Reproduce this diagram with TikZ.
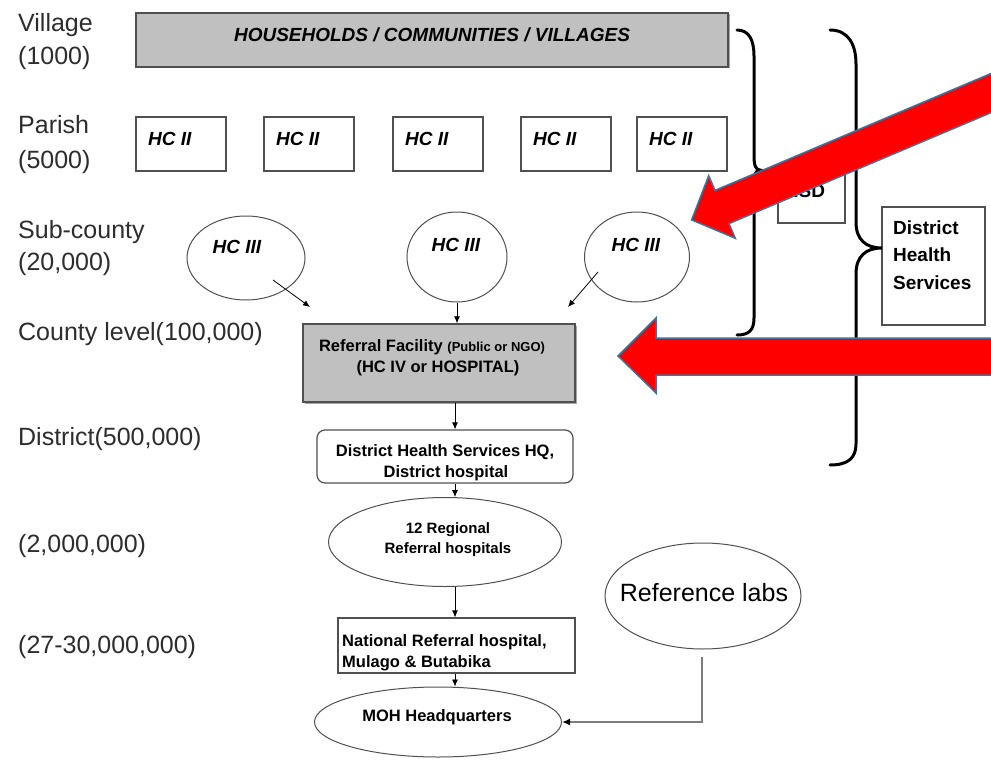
\documentclass[tikz,border=0pt]{standalone}
\usepackage{fontspec}
\setmainfont{Liberation Sans}
\usetikzlibrary{shapes.geometric,arrows.meta,shadows}
\definecolor{boxgray}{RGB}{192,192,192}
\definecolor{edgegray}{RGB}{80,80,80}
\definecolor{labelgray}{RGB}{45,45,45}
\definecolor{arrowblue}{RGB}{65,113,156}
\definecolor{linkgray}{RGB}{125,125,125}
\newcommand\hcfont{\fontsize{19}{22}\selectfont\bfseries\itshape}
\newcommand\midfont{\fontsize{16.5}{19}\selectfont\bfseries}
\newcommand\smfont{\fontsize{13}{15}\selectfont\bfseries}
\begin{document}
\begin{tikzpicture}[x=1pt,y=-1pt,
  lvl/.style={anchor=base west, font=\fontsize{25}{28}\selectfont, text=labelgray, inner sep=0},
  txt/.style={inner sep=0},
  graybox/.style={draw=edgegray, line width=1.4pt, fill=boxgray, inner sep=0,
    drop shadow={shadow xshift=1.5pt, shadow yshift=-1.5pt, fill=gray!70, opacity=1}},
  whitebox/.style={draw=edgegray, line width=1.2pt, fill=white, inner sep=0,
    drop shadow={shadow xshift=1.2pt, shadow yshift=-1.2pt, fill=gray!55, opacity=1}},
  oval/.style={ellipse, draw=edgegray, line width=1pt, fill=white, inner sep=0},
  smallarrow/.style={-{Latex[length=7pt,width=6pt]}, line width=0.8pt, black},
  bracestyle/.style={line width=3pt, black, line cap=round},
  redarrow/.style={fill=red, draw=arrowblue, line width=1.5pt, line join=miter}]
\useasboundingbox (0,0) rectangle (991,760);
\clip (0,0) rectangle (991,760);
\fill[white] (0,0) rectangle (991,760);

% level labels
\node[lvl] (lv1) at (18,32) {Village};
\node[lvl] (lv1b) at (18,65) {(1000)};
\node[lvl] (lv2) at (18,133) {Parish};
\node[lvl] (lv2b) at (18,168) {(5000)};
\node[lvl] (lv3) at (18,238) {Sub-county};
\node[lvl] (lv3b) at (18,270) {(20,000)};
\node[lvl] (lv4) at (18,340) {County level(100,000)};
\node[lvl] (lv5) at (18,445) {District(500,000)};
\node[lvl] (lv6) at (18,552) {(2,000,000)};
\node[lvl] (lv7) at (18,653) {(27-30,000,000)};

% households
\node[graybox, minimum width=592pt, minimum height=54pt] (hh) at (432,40) {};
\node[txt, font=\hcfont] (hht) at (432,35) {HOUSEHOLDS / COMMUNITIES / VILLAGES};

% HC II
\foreach \i/\cx in {1/181,2/309,3/438,4/566,5/682} {
  \node[whitebox, minimum width=90pt, minimum height=54pt] (hcii\i) at (\cx,144) {};
  \node[txt, font=\hcfont, anchor=west] (hciit\i) at (\cx-33,139) {HC II};
}

% HC III
\node[oval, minimum width=118pt, minimum height=84pt] (hcA) at (246,258) {};
\node[oval, minimum width=100pt, minimum height=90pt] (hcB) at (457,257) {};
\node[oval, minimum width=105pt, minimum height=90pt] (hcC) at (637,257) {};
\node[txt, font=\hcfont] (hcAt) at (237,247) {HC III};
\node[txt, font=\hcfont] (hcBt) at (456,245) {HC III};
\node[txt, font=\hcfont] (hcCt) at (636,245) {HC III};

% referral facility
\node[graybox, minimum width=272pt, minimum height=78pt] (ref) at (439,363) {};
\node[txt, font=\midfont] (reft1) at (432,347) {Referral Facility {\smfont (Public or NGO)}};
\node[txt, font=\midfont] (reft2) at (438,368) {(HC IV or HOSPITAL)};

% district HQ
\node[draw=edgegray, line width=1.2pt, fill=white, rounded corners=8pt, inner sep=0,
  minimum width=256pt, minimum height=53pt] (dhs) at (445,456.5) {};
\node[txt, font=\midfont] (dhst1) at (445,452) {District Health Services HQ,};
\node[txt, font=\midfont] (dhst2) at (446,473) {District hospital};

% regional
\node[oval, minimum width=233pt, minimum height=89pt] (reg) at (445,542) {};
\node[txt, font=\fontsize{15}{17}\selectfont\bfseries] (regt1) at (448,530) {12 Regional};
\node[txt, font=\fontsize{15}{17}\selectfont\bfseries] (regt2) at (448,550) {Referral hospitals};

% national
\node[whitebox, minimum width=237pt, minimum height=55pt] (nat) at (456.5,645.5) {};
\node[txt, font=\midfont, anchor=west] (natt1) at (342,642) {National Referral hospital,};
\node[txt, font=\midfont, anchor=west] (natt2) at (342,663) {Mulago \& Butabika};

% MOH
\node[oval, minimum width=247pt, minimum height=70pt] (moh) at (438,722) {};
\node[txt, font=\midfont] (moht) at (437,717) {MOH Headquarters};

% reference labs
\node[oval, minimum width=196pt, minimum height=106pt] (lab) at (703,596) {};
\node[txt, font=\fontsize{25}{28}\selectfont] (labt) at (704,593) {Reference labs};

% HSD and district health services
\node[whitebox, minimum width=67pt, minimum height=55pt] (hsd) at (811.5,195.5) {};
\node[txt, font=\fontsize{19}{22}\selectfont\bfseries] (hsdt) at (805,191) {HSD};
\node[whitebox, minimum width=103pt, minimum height=118pt] (dhsbox) at (933.5,266) {};
\node[txt, anchor=west, font=\fontsize{19}{22}\selectfont\bfseries] (dhsb1) at (893,228) {District};
\node[txt, anchor=west, font=\fontsize{19}{22}\selectfont\bfseries] (dhsb2) at (893,255) {Health};
\node[txt, anchor=west, font=\fontsize{19}{22}\selectfont\bfseries] (dhsb3) at (893,283) {Services};

% connectors
\coordinate (a1s) at (273,280);
\coordinate (a1e) at (310,307);
\coordinate (a3s) at (598,272);
\coordinate (a3e) at (568,307);
\coordinate (colx) at (455,0);
\coordinate (labfoot) at (702,657);
\draw[smallarrow] (a1s) -- (a1e);
\draw[smallarrow] (a3s) -- (a3e);
\draw[smallarrow] (hcB.south) -- (hcB.south |- ref.north);
\draw[smallarrow] (ref.south -| colx) -- (dhs.north -| colx);
\draw[smallarrow] (dhs.south -| colx) -- (reg.north -| colx);
\draw[smallarrow] (reg.south -| colx) -- (nat.north -| colx);
\draw[smallarrow] (nat.south -| colx) -- (moh.north -| colx);
\draw[linkgray, line width=2pt, -{Latex[length=8pt,width=7pt,color=black]}] (labfoot) |- (moh.east);

% braces
\draw[bracestyle] (737,30) .. controls (749,30) and (754,40) .. (754,56) -- (754,156)
  .. controls (754,166) and (756,170) .. (760,170) .. controls (756,170) and (754,174) .. (754,184)
  -- (754,318) .. controls (754,330) and (749,335) .. (737,335);
\draw[bracestyle] (830,30) .. controls (848,30) and (856,44) .. (856,64) -- (856,222)
  .. controls (856,240) and (866,248) .. (882,248) .. controls (866,248) and (856,256) .. (856,274)
  -- (856,444) .. controls (856,458) and (848,465) .. (830,465);

% red arrows
\filldraw[redarrow] (1009.7,65.6) -- (715,190.4) -- (708.7,175.7) -- (691.6,219.9) -- (735.3,238.3) -- (729,223.6) -- (1023.7,98.8) -- cycle;
\filldraw[redarrow] (1000,338) -- (656,338) -- (656,318) -- (618,356) -- (656,393) -- (656,375) -- (1000,375) -- cycle;
\end{tikzpicture}
\end{document}
